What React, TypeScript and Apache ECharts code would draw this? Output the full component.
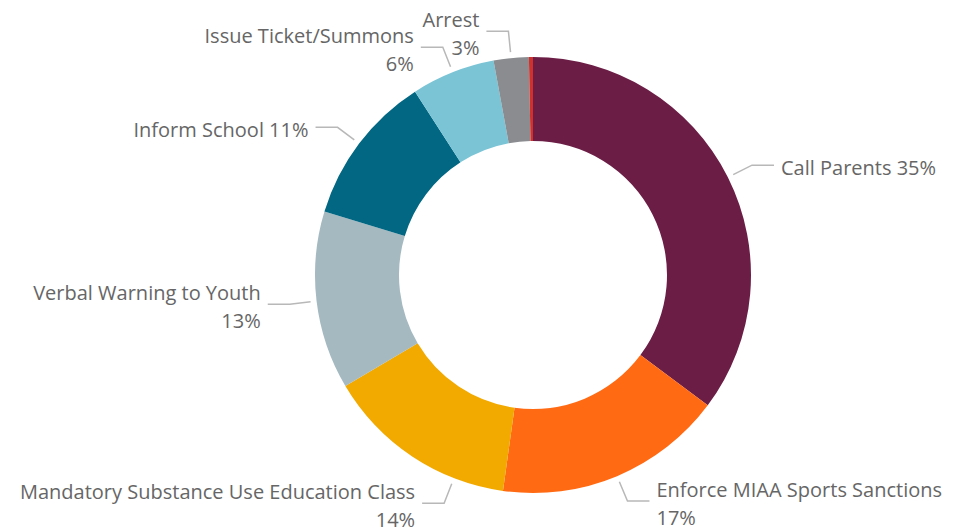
import React, { useEffect, useRef } from "react";
import * as echarts from "echarts";

const categories = [
  "Call Parents",
  "Enforce MIAA Sports Sanctions",
  "Mandatory Substance Use Education Class",
  "Verbal Warning to Youth",
  "Inform School",
  "Issue Ticket/Summons",
  "Arrest",
  "Other",
];
const shares = [35.2, 17.0, 14.3, 13.2, 11.2, 6.2, 2.6, 0.3];
const colors = ["#6B1D45", "#FF6A13", "#F2A900", "#A5B9C1", "#016782", "#7AC4D6", "#8A8C8F", "#D0312D"];
const singleLineLabels = ["Call Parents", "Inform School"];
const hiddenLabels = ["Other"];

const W = 970;
const H = 529;
const CX = 533;
const CY = 275;
const R_IN = 134;
const R_OUT = 218;
const FONT_SIZE = 20;
const LINE_H = 28;
const FONT_FAMILY = "'Segoe UI', 'Open Sans', sans-serif";

const total = shares.reduce((a, b) => a + b, 0);

function labelText(i: number): string {
  const pct = Math.round((shares[i] / total) * 100) + "%";
  const name = categories[i];
  return singleLineLabels.includes(name) ? `${name} ${pct}` : `${name}\n${pct}`;
}

let ctx: CanvasRenderingContext2D | null = null;
function measure(t: string): number {
  if (!ctx) {
    ctx = document.createElement("canvas").getContext("2d");
  }
  if (!ctx) return t.length * FONT_SIZE * 0.5;
  ctx.font = `${FONT_SIZE}px ${FONT_FAMILY}`;
  return ctx.measureText(t).width;
}

export default function App() {
  const ref = useRef<HTMLDivElement>(null);
  useEffect(() => {
    if (!ref.current) return;
    const chart = echarts.init(ref.current, undefined, { renderer: "svg" });
    const data = categories.map((name, i) => {
      const hidden = hiddenLabels.includes(name);
      return {
        name,
        value: shares[i],
        label: hidden ? { show: false } : undefined,
        labelLine: hidden ? { show: false } : undefined,
      };
    });
    chart.setOption({
      animation: false,
      color: colors,
      series: [
        {
          type: "pie",
          silent: true,
          center: [CX, CY],
          radius: [R_IN, R_OUT],
          startAngle: 90,
          clockwise: true,
          avoidLabelOverlap: false,
          data,
          label: {
            show: true,
            position: "outside",
            overflow: "none",
            color: "#666666",
            fontSize: FONT_SIZE,
            lineHeight: LINE_H,
            fontFamily: FONT_FAMILY,
            formatter: (p: any) => labelText(p.dataIndex),
          },
          labelLine: {
            show: true,
            lineStyle: { color: "#b8b8b8", width: 1.5 },
          },
          labelLayout: (p: any) => {
            const i = p.dataIndex;
            if (hiddenLabels.includes(categories[i])) return {};
            let before = 0;
            for (let k = 0; k < i; k++) before += shares[k];
            let theta = ((before + shares[i] / 2) / total) * Math.PI * 2;
            const w = Math.max(...labelText(i).split("\n").map(measure));
            const r0 = R_OUT + 6;
            const r1 = R_OUT + 27;
            const h2 = 22;
            const gap = 7;
            const margin = 20;
            const right = Math.sin(theta) >= 0;
            let bx = CX + r1 * Math.sin(theta);
            if (!right) {
              const need = margin + w + gap + h2;
              if (bx < need) {
                const a = Math.asin((need - CX) / r1);
                theta = Math.cos(theta) < 0 ? Math.PI - a : 2 * Math.PI + a;
              }
            } else {
              const need = W - margin - w - gap - h2;
              if (bx > need) {
                const a = Math.asin((need - CX) / r1);
                theta = Math.cos(theta) < 0 ? Math.PI - a : a;
              }
            }
            const s = Math.sin(theta);
            const c = Math.cos(theta);
            const sx = CX + r0 * s;
            const sy = CY - r0 * c;
            bx = CX + r1 * s;
            const by = CY - r1 * c;
            const ex = right ? bx + h2 : bx - h2;
            return {
              x: right ? ex + gap : ex - gap,
              y: by + 2,
              align: right ? "left" : "right",
              verticalAlign: "middle",
              labelLinePoints: [
                [sx, sy],
                [bx, by],
                [ex, by],
              ],
            };
          },
        },
      ],
    });
    return () => chart.dispose();
  }, []);
  return (
    <div
      ref={ref}
      style={{ position: "absolute", left: 0, top: 0, width: W, height: H, background: "#ffffff" }}
    />
  );
}
